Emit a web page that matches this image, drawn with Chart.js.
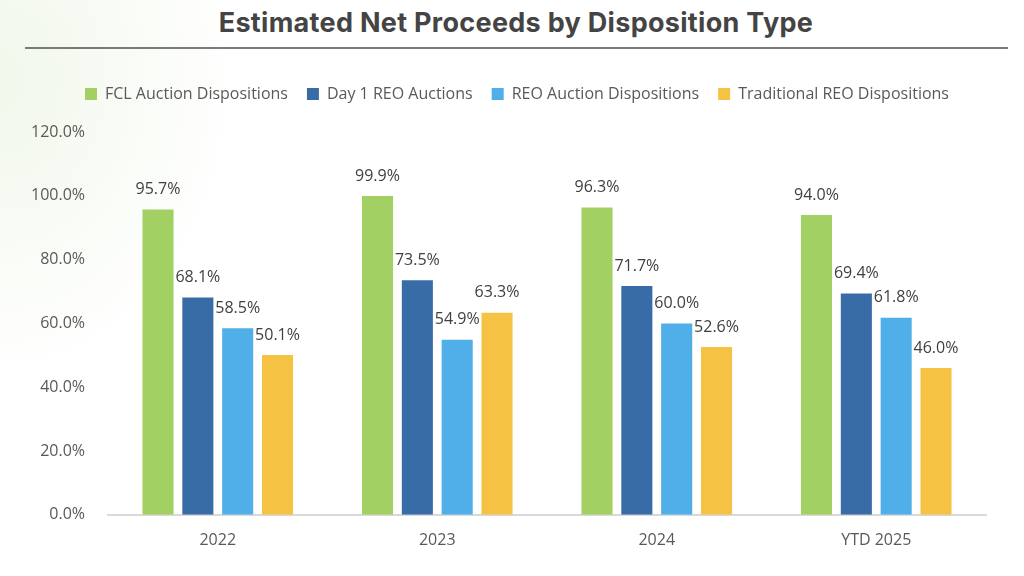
<!DOCTYPE html>
<html>
<head>
<meta charset="utf-8">
<script src="https://cdn.jsdelivr.net/npm/chart.js@4"></script>
<style>
    html, body { margin: 0; padding: 0; }
    body {
        width: 1024px; height: 576px; overflow: hidden; position: relative;
        background: radial-gradient(ellipse 240px 300px at 0px 80px, rgba(232, 243, 222, 0.6), rgba(255, 255, 255, 0) 100%), #ffffff;
        font-family: 'Open Sans', sans-serif;
    }
    #title {
        position: absolute; left: 0; width: 1032px; top: 6px; text-align: center;
        font-family: 'Inter', 'Open Sans', sans-serif; font-weight: 700; font-size: 27px;
        color: #444444; letter-spacing: 0.3px;
    }
    #rule {
        position: absolute; left: 25px; width: 983px; top: 47px; height: 2px; background: #7a7a7a;
    }
    #wrap { position: absolute; left: 0; top: 0; width: 1024px; height: 576px; }
</style>
</head>
<body>
<div id="title">Estimated Net Proceeds by Disposition Type</div>
<div id="rule"></div>
<div id="wrap"><canvas id="proceedsChart"></canvas></div>
<script>
const years = ['2022', '2023', '2024', 'YTD 2025'];
const fclAuction = [95.7, 99.9, 96.3, 94.0];
const day1Reo = [68.1, 73.5, 71.7, 69.4];
const reoAuction = [58.5, 54.9, 60.0, 61.8];
const traditionalReo = [50.1, 63.3, 52.6, 46.0];
const yTicks = [0, 20, 40, 60, 80, 100, 120];

const labelFont = "16px 'Open Sans', sans-serif";

// draws the value labels above each bar
const valueLabels = {
    id: 'valueLabels',
    afterDatasetsDraw(chart) {
        const ctx = chart.ctx;
        ctx.save();
        ctx.font = labelFont;
        ctx.fillStyle = '#404040';
        ctx.textAlign = 'center';
        ctx.textBaseline = 'middle';
        chart.data.datasets.forEach(function(ds, i) {
            chart.getDatasetMeta(i).data.forEach(function(bar, j) {
                ctx.fillText(ds.data[j].toFixed(1) + '%', bar.x, bar.y - 20);
            });
        });
        ctx.restore();
    }
};

// extra room between legend and plot, and nudge legend right
const legendSpacer = {
    id: 'legendSpacer',
    beforeInit(chart) {
        const legend = chart.legend;
        const fit = legend.fit;
        legend.fit = function() {
            fit.call(this);
            this.height += 20;
        };
        const draw = legend.draw;
        legend.draw = function() {
            const ctx = this.ctx;
            ctx.save();
            ctx.translate(16, 0);
            draw.call(this);
            ctx.restore();
        };
    }
};

document.addEventListener('DOMContentLoaded', function() {
    new Chart(document.getElementById('proceedsChart'), {
        type: 'bar',
        data: {
            labels: years,
            datasets: [
                { label: 'FCL Auction Dispositions', data: fclAuction, backgroundColor: '#a2d063' },
                { label: 'Day 1 REO Auctions', data: day1Reo, backgroundColor: '#386ca6' },
                { label: 'REO Auction Dispositions', data: reoAuction, backgroundColor: '#50aee8' },
                { label: 'Traditional REO Dispositions', data: traditionalReo, backgroundColor: '#f5c243' }
            ]
        },
        options: {
            responsive: true,
            maintainAspectRatio: false,
            animation: false,
            categoryPercentage: 0.726,
            barPercentage: 0.78,
            layout: {
                padding: { top: 67, left: 16, right: 38, bottom: 18 }
            },
            plugins: {
                legend: {
                    display: true,
                    position: 'top',
                    labels: {
                        boxWidth: 12,
                        boxHeight: 12,
                        padding: 19,
                        color: '#595959',
                        font: { family: "'Open Sans', sans-serif", size: 16 }
                    }
                },
                tooltip: { enabled: false }
            },
            scales: {
                y: {
                    min: 0,
                    max: 120,
                    afterBuildTicks: function(axis) {
                        axis.ticks = yTicks.map(function(v) { return { value: v }; });
                    },
                    ticks: {
                        color: '#595959',
                        padding: 15,
                        font: { family: "'Open Sans', sans-serif", size: 16 },
                        callback: function(v) { return v.toFixed(1) + '%'; }
                    },
                    grid: { display: false },
                    border: { display: false }
                },
                x: {
                    ticks: {
                        color: '#595959',
                        padding: 8,
                        font: { family: "'Open Sans', sans-serif", size: 16 }
                    },
                    grid: { display: false },
                    border: { display: true, color: '#d9d9d9', width: 2 }
                }
            }
        },
        plugins: [valueLabels, legendSpacer]
    });
});
</script>
</body>
</html>
